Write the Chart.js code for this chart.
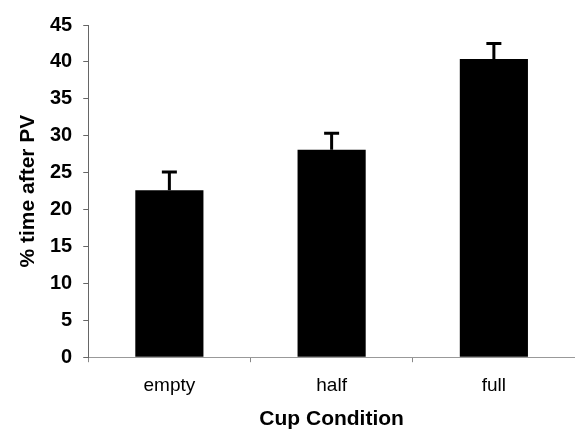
<!DOCTYPE html>
<html lang="en">
<head>
    <meta charset="UTF-8">
    <title>Cup Condition</title>
    <script src="https://cdn.jsdelivr.net/npm/chart.js"></script>
    <style>
        body {
            margin: 0;
            background-color: #fff;
        }

        .chart-container {
            width: 575px;
            height: 439px;
        }
    </style>
</head>
<body>
    <div class="chart-container">
        <canvas id="cupChart"></canvas>
    </div>

    <script>
        // Mean % time after PV per cup condition, with the upper error (SE)
        const conditions = ['empty', 'half', 'full'];
        const meanTime = [22.6, 28.1, 40.4];
        const errorUp = [2.5, 2.25, 2.1];

        // Draws one-sided (upward) error bars on top of each bar
        const errorBarPlugin = {
            id: 'errorBars',
            afterDatasetsDraw(chart) {
                const ctx = chart.ctx;
                const yScale = chart.scales.y;
                const meta = chart.getDatasetMeta(0);
                ctx.save();
                ctx.strokeStyle = '#000';
                ctx.lineWidth = 3;
                meta.data.forEach((bar, i) => {
                    const x = bar.x;
                    const yTop = yScale.getPixelForValue(meanTime[i] + errorUp[i]);
                    ctx.beginPath();
                    ctx.moveTo(x, bar.y);
                    ctx.lineTo(x, yTop);
                    ctx.moveTo(x - 7.5, yTop);
                    ctx.lineTo(x + 7.5, yTop);
                    ctx.stroke();
                });
                ctx.restore();
            }
        };

        const cupData = {
            labels: conditions,
            datasets: [{
                data: meanTime,
                backgroundColor: '#000',
                borderWidth: 0,
                barPercentage: 0.42,
                categoryPercentage: 1.0
            }]
        };

        const cupConfig = {
            type: 'bar',
            data: cupData,
            options: {
                responsive: true,
                maintainAspectRatio: false,
                animation: false,
                layout: {
                    padding: { top: 25, right: 0, bottom: 0, left: 0 }
                },
                plugins: {
                    legend: { display: false },
                    tooltip: { enabled: false }
                },
                scales: {
                    x: {
                        grid: {
                            display: true,
                            drawOnChartArea: false,
                            drawTicks: true,
                            tickLength: 5,
                            color: '#888'
                        },
                        border: { color: '#999', width: 1 },
                        ticks: {
                            color: '#000',
                            padding: 12,
                            font: { family: 'Liberation Sans', size: 19 }
                        },
                        title: {
                            display: true,
                            text: 'Cup Condition',
                            color: '#000',
                            padding: { top: 0, bottom: 9 },
                            font: { family: 'Liberation Sans', size: 21, weight: 'bold', lineHeight: 1.0 }
                        }
                    },
                    y: {
                        min: 0,
                        max: 45,
                        grid: {
                            display: true,
                            drawOnChartArea: false,
                            drawTicks: true,
                            tickLength: 5,
                            color: '#666'
                        },
                        border: { color: '#666', width: 1 },
                        ticks: {
                            stepSize: 5,
                            color: '#000',
                            padding: 11,
                            font: { family: 'Liberation Sans', size: 20, weight: 'bold' }
                        },
                        title: {
                            display: true,
                            text: '% time after PV',
                            color: '#000',
                            padding: { top: 18, bottom: 0 },
                            font: { family: 'Liberation Sans', size: 21, weight: 'bold', lineHeight: 1.0 }
                        }
                    }
                }
            },
            plugins: [errorBarPlugin]
        };

        const cupChart = new Chart(
            document.getElementById('cupChart'),
            cupConfig
        );
    </script>
</body>
</html>
